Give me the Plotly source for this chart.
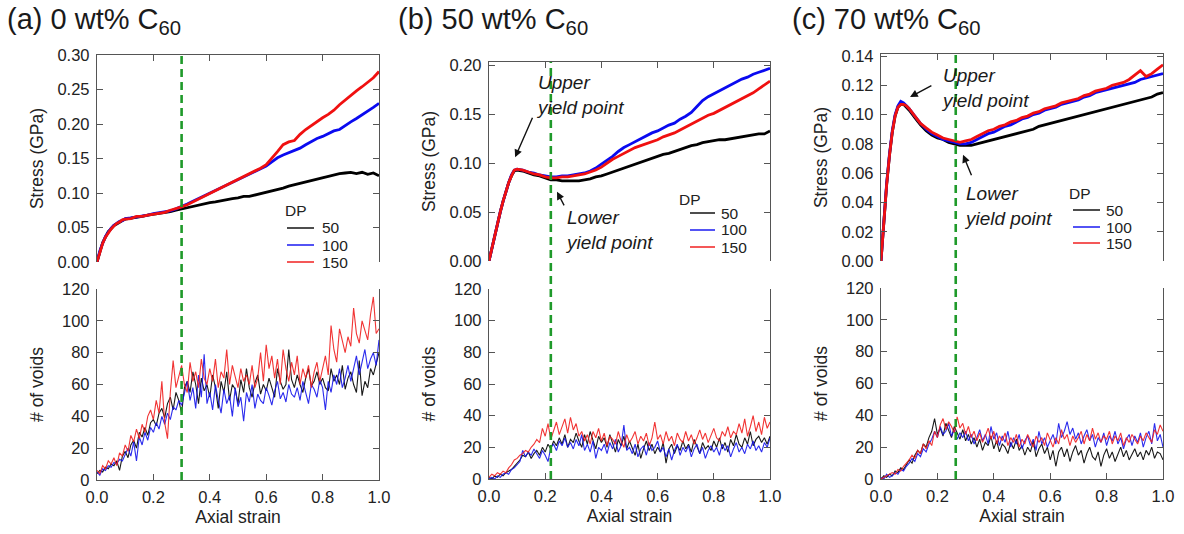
import plotly.graph_objects as go

W, H = 1184, 534
FONT = "Liberation Sans, Arial, sans-serif"

# ---------------- data ----------------
strain_s = [i / 100 for i in range(11)] + [i / 100 for i in range(12, 101, 2)]
strain_v = [i / 100 for i in range(101)]

dp_labels = ["50", "100", "150"]
panel_titles = ["(a) 0 wt% C<sub>60</sub>", "(b) 50 wt% C<sub>60</sub>", "(c) 70 wt% C<sub>60</sub>"]
yield_strain = [0.30, 0.22, 0.265]

# stress (GPa), panel a (0 wt%)
a_s50 = [0.000, 0.015, 0.028, 0.036, 0.044, 0.048, 0.053, 0.055, 0.058, 0.060, 0.062,
         0.063, 0.065, 0.066, 0.068, 0.069, 0.070, 0.072, 0.073, 0.075, 0.077,
         0.079, 0.081, 0.083, 0.084, 0.086, 0.087, 0.089, 0.090, 0.092, 0.093,
         0.095, 0.095, 0.097, 0.099, 0.101, 0.102, 0.105, 0.107, 0.110, 0.112,
         0.114, 0.117, 0.118, 0.120, 0.122, 0.124, 0.127, 0.128, 0.129, 0.130,
         0.128, 0.130, 0.127, 0.129, 0.125]
a_s100 = [0.000, 0.016, 0.027, 0.037, 0.043, 0.049, 0.053, 0.056, 0.059, 0.060, 0.063,
          0.064, 0.065, 0.067, 0.068, 0.070, 0.071, 0.073, 0.074, 0.077, 0.080,
          0.084, 0.088, 0.092, 0.096, 0.100, 0.104, 0.108, 0.112, 0.115, 0.119,
          0.123, 0.127, 0.131, 0.135, 0.139, 0.145, 0.151, 0.155, 0.158, 0.162,
          0.165, 0.170, 0.175, 0.179, 0.182, 0.186, 0.190, 0.192, 0.198, 0.203,
          0.208, 0.213, 0.218, 0.224, 0.230]
a_s150 = [0.000, 0.015, 0.027, 0.036, 0.043, 0.048, 0.052, 0.056, 0.058, 0.061, 0.062,
          0.063, 0.066, 0.066, 0.068, 0.069, 0.071, 0.072, 0.075, 0.077, 0.080,
          0.083, 0.087, 0.091, 0.095, 0.099, 0.103, 0.107, 0.111, 0.115, 0.119,
          0.123, 0.127, 0.131, 0.136, 0.141, 0.150, 0.160, 0.170, 0.174, 0.176,
          0.185, 0.192, 0.198, 0.203, 0.209, 0.214, 0.220, 0.228, 0.235, 0.242,
          0.248, 0.254, 0.260, 0.267, 0.276]

# stress, panel b (50 wt%)
b_s50 = [0.000, 0.013, 0.026, 0.038, 0.050, 0.061, 0.071, 0.080, 0.087, 0.092, 0.093,
         0.092, 0.090, 0.088, 0.087, 0.085, 0.083, 0.083, 0.082, 0.082, 0.082,
         0.082, 0.083, 0.084, 0.086, 0.087, 0.089, 0.091, 0.093, 0.095, 0.097,
         0.099, 0.101, 0.103, 0.105, 0.107, 0.109, 0.110, 0.112, 0.114, 0.116,
         0.118, 0.119, 0.121, 0.122, 0.123, 0.124, 0.124, 0.125, 0.126, 0.127,
         0.128, 0.129, 0.130, 0.130, 0.133]
b_s100 = [0.000, 0.013, 0.026, 0.038, 0.050, 0.061, 0.071, 0.080, 0.088, 0.093, 0.094,
          0.093, 0.091, 0.090, 0.088, 0.087, 0.086, 0.086, 0.087, 0.087, 0.088,
          0.089, 0.090, 0.092, 0.095, 0.099, 0.103, 0.107, 0.112, 0.116, 0.119,
          0.122, 0.125, 0.128, 0.131, 0.133, 0.136, 0.139, 0.141, 0.145, 0.148,
          0.152, 0.158, 0.164, 0.168, 0.171, 0.174, 0.177, 0.180, 0.183, 0.186,
          0.188, 0.191, 0.193, 0.195, 0.197]
b_s150 = [0.000, 0.013, 0.026, 0.038, 0.050, 0.061, 0.071, 0.080, 0.087, 0.093, 0.094,
          0.093, 0.091, 0.089, 0.088, 0.086, 0.085, 0.085, 0.086, 0.086, 0.087,
          0.088, 0.089, 0.091, 0.093, 0.096, 0.100, 0.104, 0.107, 0.110, 0.113,
          0.116, 0.118, 0.120, 0.122, 0.124, 0.127, 0.129, 0.131, 0.134, 0.137,
          0.140, 0.143, 0.146, 0.149, 0.151, 0.154, 0.157, 0.160, 0.163, 0.166,
          0.169, 0.172, 0.176, 0.180, 0.184]

# stress, panel c (70 wt%)
c_s50 = [0.000, 0.027, 0.052, 0.072, 0.088, 0.099, 0.105, 0.107, 0.107, 0.105, 0.103,
         0.098, 0.093, 0.089, 0.086, 0.084, 0.083, 0.081, 0.080, 0.079, 0.079,
         0.079, 0.080, 0.081, 0.082, 0.083, 0.084, 0.085, 0.086, 0.087, 0.088,
         0.089, 0.090, 0.092, 0.093, 0.094, 0.095, 0.096, 0.097, 0.098, 0.099,
         0.100, 0.101, 0.102, 0.103, 0.104, 0.105, 0.106, 0.107, 0.108, 0.109,
         0.110, 0.111, 0.112, 0.114, 0.115]
c_s100 = [0.000, 0.027, 0.053, 0.073, 0.089, 0.100, 0.106, 0.109, 0.108, 0.106, 0.104,
          0.099, 0.094, 0.090, 0.087, 0.085, 0.083, 0.082, 0.081, 0.080, 0.080,
          0.081, 0.083, 0.085, 0.087, 0.088, 0.090, 0.092, 0.093, 0.095, 0.097,
          0.098, 0.100, 0.101, 0.103, 0.104, 0.105, 0.107, 0.108, 0.109, 0.110,
          0.112, 0.113, 0.115, 0.116, 0.117, 0.118, 0.119, 0.120, 0.121, 0.122,
          0.124, 0.125, 0.126, 0.127, 0.128]
c_s150 = [0.000, 0.027, 0.052, 0.072, 0.088, 0.099, 0.105, 0.107, 0.107, 0.106, 0.104,
          0.099, 0.094, 0.091, 0.088, 0.086, 0.084, 0.083, 0.082, 0.081, 0.082,
          0.083, 0.085, 0.087, 0.089, 0.090, 0.092, 0.093, 0.095, 0.096, 0.098,
          0.099, 0.101, 0.102, 0.104, 0.105, 0.106, 0.108, 0.109, 0.110, 0.111,
          0.113, 0.114, 0.116, 0.117, 0.118, 0.120, 0.121, 0.122, 0.124, 0.127,
          0.130, 0.126, 0.128, 0.131, 0.134]

# number of voids, panel a
a_v50 = [4, 6, 5, 8, 7, 10, 9, 12, 6, 15,
         18, 14, 22, 25, 20, 30, 27, 33, 28, 36,
         38, 34, 42, 45, 39, 48, 52, 44, 55, 50,
         42, 58, 62, 55, 68, 60, 48, 64, 56, 60,
         52, 66, 58, 45, 62, 55, 68, 50, 60, 57,
         48, 63, 55, 70, 58, 52, 61, 66, 54, 60,
         56, 64, 58, 52, 70, 62, 57, 60, 82, 63,
         58, 66, 60, 55, 64, 70, 59, 62, 68, 60,
         64, 58, 56, 70, 62, 66, 60, 72, 57, 64,
         68, 60, 55, 75, 53, 62, 58, 70, 66, 74,
         80]
a_v100 = [5, 3, 7, 6, 9, 8, 11, 10, 13, 12,
          16, 20, 15, 24, 12, 27, 22, 30, 25, 33,
          30, 36, 32, 40, 35, 42, 38, 46, 44, 50,
          47, 55, 62, 50, 58, 45, 66, 52, 79, 48,
          55, 44, 60, 50, 42, 57, 48, 53, 40, 58,
          46, 52, 37, 55, 49, 60, 45, 54, 50, 48,
          58, 53, 47, 56, 62, 51, 55, 49, 60, 54,
          52, 58, 50, 62, 55, 48, 60, 57, 52, 63,
          58, 44, 62, 55, 66, 60, 70, 58, 64, 72,
          62, 70, 78, 66, 74, 82, 70, 76, 80, 72,
          88]
a_v150 = [6, 4, 9, 7, 12, 10, 14, 9, 17, 15,
          22, 18, 28, 24, 32, 26, 35, 30, 40, 44,
          38, 50, 42, 62, 36, 26, 55, 75, 58, 66,
          72, 60, 55, 74, 62, 68, 58, 76, 64, 60,
          70, 62, 76, 58, 68, 64, 82, 60, 72, 65,
          58, 70, 62, 66, 60, 72, 58, 64, 80, 62,
          85, 70, 78, 64, 76, 60, 82, 70, 62, 74,
          66, 78, 60, 70, 64, 72, 58, 68, 74, 62,
          70, 78, 66, 97, 82, 74, 95, 88, 80, 90,
          84, 108, 92, 86, 100, 94, 88, 104, 115, 92,
          95]

# number of voids, panel b
b_v50 = [1, 0, 2, 1, 3, 2, 4, 5, 6, 8,
         10, 12, 15, 14, 17, 13, 16, 18, 15, 20,
         17, 22, 19, 24, 21, 26, 22, 28, 20, 25,
         23, 29, 24, 20, 28, 22, 30, 25, 19, 27,
         23, 26, 20, 28, 22, 17, 25, 21, 27, 19,
         24, 20, 15, 22, 13, 19, 24, 18, 22, 16,
         20, 17, 23, 10, 19, 22, 16, 21, 18, 24,
         19, 22, 17, 25, 20, 16, 23, 19, 21, 18,
         24, 20, 26, 19, 23, 17, 25, 21, 28, 22,
         20, 26, 22, 30, 21, 25, 27, 23, 26, 22,
         27]
b_v100 = [0, 1, 0, 2, 1, 3, 4, 3, 6, 7,
          9, 11, 18, 14, 17, 15, 19, 16, 13, 18,
          15, 11, 20, 22, 18, 24, 21, 26, 20, 23,
          19, 25, 21, 28, 18, 22, 17, 24, 13, 20,
          18, 22, 16, 23, 19, 25, 17, 21, 34, 18,
          20, 16, 22, 14, 19, 21, 15, 23, 18, 20,
          24, 17, 20, 14, 19, 12, 18, 22, 15, 20,
          17, 21, 14, 19, 22, 16, 20, 13, 18, 21,
          17, 20, 15, 22, 18, 21, 14, 19, 23, 17,
          20, 16, 22, 19, 24, 18, 21, 17, 23, 20,
          26]
b_v150 = [1, 3, 2, 4, 3, 5, 4, 7, 9, 12,
          13, 15, 16, 18, 17, 20, 22, 25, 23, 32,
          27, 35, 25, 30, 36, 28, 33, 38, 29, 39,
          31, 35, 27, 30, 24, 28, 22, 30, 26, 32,
          24, 29, 21, 27, 25, 22, 30, 24, 20, 28,
          23, 26, 30, 22, 27, 24, 29, 21, 26, 36,
          25, 28, 22, 30, 24, 27, 21, 29, 25, 23,
          30, 24, 28, 22, 26, 31, 25, 29, 23, 27,
          32, 26, 24, 30, 27, 33, 26, 30, 28, 35,
          29, 38, 27, 33, 40, 30, 36, 28, 39, 32,
          36]

# number of voids, panel c
c_v50 = [0, 2, 1, 3, 2, 5, 4, 7, 6, 9,
         12, 10, 15, 18, 16, 22, 20, 26, 30, 38,
         28, 32, 27, 35, 30, 26, 33, 29, 25, 31,
         24, 28, 22, 26, 20, 25, 18, 23, 21, 27,
         19, 24, 17, 22, 20, 16, 23, 19, 25, 18,
         21, 15, 20, 17, 24, 14, 19, 22, 16, 20,
         12, 18, 8, 17, 20, 14, 19, 11, 17, 21,
         15, 18, 10, 16, 20, 14, 12, 17, 8, 15,
         19, 13, 17, 11, 16, 20, 14, 18, 12, 16,
         19, 14, 17, 12, 18, 15, 20, 13, 17, 16,
         12]
c_v100 = [1, 0, 3, 1, 2, 4, 3, 6, 5, 8,
          10, 13, 11, 16, 14, 19, 17, 22, 25, 30,
          26, 33, 28, 30, 35, 27, 31, 25, 29, 26,
          30, 24, 28, 22, 26, 31, 24, 28, 22, 33,
          25, 29, 21, 27, 23, 30, 20, 26, 22, 28,
          19, 24, 27, 21, 25, 18, 30, 22, 26, 20,
          24, 28, 22, 35, 26, 30, 36, 28, 32, 25,
          29, 22, 27, 31, 24, 28, 20, 26, 23, 29,
          21, 27, 24, 30, 22, 26, 19, 25, 28, 21,
          27, 23, 29, 20, 26, 30, 22, 35, 24, 28,
          20]
c_v150 = [0, 1, 2, 3, 4, 3, 6, 5, 8, 10,
          12, 15, 13, 18, 16, 22, 19, 24, 21, 30,
          26, 34, 38, 31, 36, 33, 29, 39, 32, 35,
          28, 33, 26, 30, 24, 29, 23, 27, 32, 25,
          30, 22, 27, 24, 29, 21, 26, 23, 28, 20,
          25, 22, 28, 24, 20, 27, 23, 26, 21, 29,
          24, 20, 26, 22, 31, 25, 28, 21, 27, 23,
          26, 30, 22, 28, 24, 32, 25, 29, 23, 27,
          25, 30, 22, 27, 24, 29, 21, 26, 23, 28,
          25, 22, 27, 24, 29, 26, 23, 31, 28, 34,
          30]

stress = [[a_s50, a_s100, a_s150], [b_s50, b_s100, b_s150], [c_s50, c_s100, c_s150]]
voids = [[a_v50, a_v100, a_v150], [b_v50, b_v100, b_v150], [c_v50, c_v100, c_v150]]

stress_range = [0.30, 0.2035, 0.1414]
stress_dtick = [0.05, 0.05, 0.02]
voids_range = 120
voids_dtick = 20

# ---------------- layout geometry (pixels) ----------------
colors = ["#000000", "#0a0af0", "#f01010"]
void_colors = ["rgba(0,0,0,0.9)", "rgba(20,20,235,0.9)", "rgba(240,30,30,0.9)"]

x_dom = [(97, 379), (489, 770), (881, 1163)]
top_dom = [(262, 55), (261, 62), (261, 54)]
bot_dom = [(480, 289), (479, 289), (479, 288)]
title_pos = [(5, 21), (396, 21), (790, 21)]
# legend: (title left, title y, line x0, line x1, text left, [row y])
legend_geo = [
    (283, 211, 287, 314, 320, [228, 245, 262]),
    (677, 199, 690, 715, 719, [213, 230, 247]),
    (1067, 193, 1073, 1100, 1104, [210, 227, 243]),
]


def fx(p):
    return p / W


def fy(p):
    return 1 - p / H


fig = go.Figure()

axis_common = dict(showline=True, linecolor="#555555", linewidth=1.3,
                   ticks="inside", ticklen=6, tickcolor="#555555", tickwidth=1.3,
                   showgrid=False, zeroline=False, automargin=False,
                   tickfont=dict(size=16.5, color="#222222", family=FONT))
title_font = dict(size=17.5, color="#222222", family=FONT)
legend_font = dict(size=15.5, color="#222222", family=FONT)

layout_updates = {}

for i in range(3):
    nt, nb = 2 * i + 1, 2 * i + 2
    xt = "x" if nt == 1 else f"x{nt}"
    yt = "y" if nt == 1 else f"y{nt}"
    xb, yb = f"x{nb}", f"y{nb}"

    for k in range(3):
        fig.add_trace(go.Scatter(x=strain_s, y=stress[i][k], mode="lines",
                                 line=dict(color=colors[k], width=2.8),
                                 xaxis=xt, yaxis=yt, showlegend=False,
                                 name=dp_labels[k], hoverinfo="skip"))
    for k in range(3):
        fig.add_trace(go.Scatter(x=strain_v, y=voids[i][k], mode="lines",
                                 line=dict(color=void_colors[k], width=1.1),
                                 xaxis=xb, yaxis=yb, showlegend=False,
                                 name=dp_labels[k], hoverinfo="skip"))

    xd = [fx(x_dom[i][0]), fx(x_dom[i][1])]
    layout_updates["xaxis" if nt == 1 else f"xaxis{nt}"] = dict(
        axis_common, domain=xd, range=[0, 1], dtick=0.2, side="top",
        showticklabels=False, anchor=yt)
    layout_updates[f"yaxis{'' if nt == 1 else nt}"] = dict(
        axis_common, domain=[fy(top_dom[i][0]), fy(top_dom[i][1])],
        range=[0, stress_range[i]], dtick=stress_dtick[i], tickformat=".2f",
        mirror="ticks", anchor=xt, ticklabelstandoff=3,
        title=dict(text="Stress (GPa)", standoff=9, font=title_font))
    layout_updates[f"xaxis{nb}"] = dict(
        axis_common, domain=xd, range=[0, 1], dtick=0.2, tickformat=".1f",
        anchor=yb, ticklabelstandoff=2,
        title=dict(text="Axial strain", standoff=5, font=title_font))
    layout_updates[f"yaxis{nb}"] = dict(
        axis_common, domain=[fy(bot_dom[i][0]), fy(bot_dom[i][1])],
        range=[0, voids_range], dtick=voids_dtick, mirror="ticks", anchor=xb,
        ticklabelstandoff=3,
        title=dict(text="# of voids", standoff=13, font=title_font))

    # yield strain dashed line spanning both plots
    fig.add_shape(type="line", xref=xt, yref="paper",
                  x0=yield_strain[i], x1=yield_strain[i],
                  y0=fy(bot_dom[i][0]), y1=fy(top_dom[i][1]),
                  line=dict(color="#1f9a2a", width=2.6, dash="8px,5px"))

    fig.add_annotation(text=panel_titles[i], xref="paper", yref="paper",
                       x=fx(title_pos[i][0]), y=fy(title_pos[i][1]),
                       xanchor="left", yanchor="middle", showarrow=False,
                       font=dict(size=29, color="#1a1a1a", family=FONT))

    # DP legend
    tl, ty, lx0, lx1, txl, rows = legend_geo[i]
    fig.add_annotation(text="DP", xref="paper", yref="paper", x=fx(tl), y=fy(ty),
                       xanchor="left", yanchor="middle", showarrow=False,
                       font=legend_font)
    for k in range(3):
        fig.add_shape(type="line", xref="paper", yref="paper",
                      x0=fx(lx0), x1=fx(lx1), y0=fy(rows[k]), y1=fy(rows[k]),
                      line=dict(color=colors[k], width=1.4))
        fig.add_annotation(text=dp_labels[k], xref="paper", yref="paper",
                           x=fx(txl), y=fy(rows[k]), xanchor="left",
                           yanchor="middle", showarrow=False, font=legend_font)

# yield point annotations (panels b and c)
ann_font = dict(size=19, color="#1a1a1a", family=FONT)
notes = [
    # (xaxis, yaxis, text, text_left_px, text_center_py, tail(x,y), head(x,y))
    ("x3", "y3", "<i>Upper<br>yield point</i>", 534, 95, (0.157, 0.148), (0.093, 0.106)),
    ("x3", "y3", "<i>Lower<br>yield point</i>", 563, 230, (0.270, 0.0554), (0.242, 0.0708)),
    ("x5", "y5", "<i>Upper<br>yield point</i>", 939, 88, (0.184, 0.1204), (0.103, 0.112)),
    ("x5", "y5", "<i>Lower<br>yield point</i>", 962, 206, (0.323, 0.0575), (0.291, 0.0725)),
]
for xa, ya, txt, tx, ty, tail, head in notes:
    fig.add_annotation(text=txt, xref="paper", yref="paper", x=fx(tx), y=fy(ty),
                       xanchor="left", yanchor="middle", align="left",
                       showarrow=False, font=ann_font)
    fig.add_annotation(text="", xref=xa, yref=ya, x=head[0], y=head[1],
                       axref=xa, ayref=ya, ax=tail[0], ay=tail[1],
                       showarrow=True, arrowhead=2, arrowsize=1.1, arrowwidth=1.4,
                       arrowcolor="#111111")

fig.update_layout(
    width=W, height=H, margin=dict(l=0, r=0, t=0, b=0, autoexpand=False),
    paper_bgcolor="white", plot_bgcolor="white", showlegend=False,
    font=dict(family=FONT, color="#222222"),
    **layout_updates,
)

fig.write_html("out.html")
